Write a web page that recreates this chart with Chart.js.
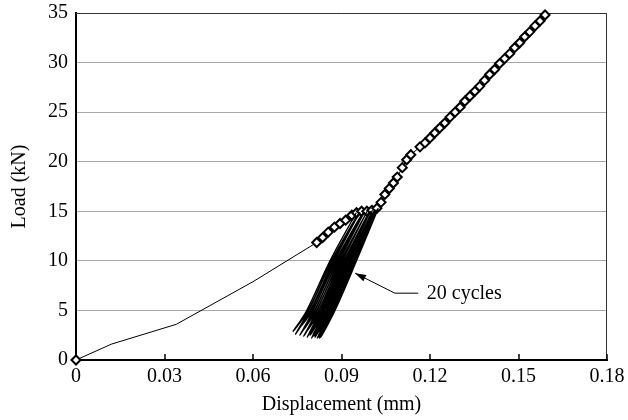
<!DOCTYPE html>
<html>
<head>
<meta charset="utf-8">
<script src="https://cdn.jsdelivr.net/npm/chart.js@4.4.0/dist/chart.umd.min.js"></script>
<style>
  html, body { margin: 0; padding: 0; background: #fff; }
  #wrap { width: 628px; height: 420px; }
</style>
</head>
<body>
<div id="wrap"><canvas id="chart"></canvas></div>
<script>
// monotonic envelope, displacement (mm) / load (kN)
const envX = [0, 0.012, 0.034, 0.060, 0.0816, 0.0836, 0.0855, 0.0876, 0.0895, 0.0914, 0.0935, 0.0951,
  0.0968, 0.0986, 0.1003, 0.1020, 0.1034, 0.1047, 0.1062, 0.1076, 0.1089, 0.1106, 0.1121, 0.1135,
  0.1166, 0.1183, 0.1200, 0.1216, 0.1233, 0.1250, 0.1268, 0.1285, 0.1302, 0.1318, 0.1335, 0.1352,
  0.1368, 0.1385, 0.1402, 0.1419, 0.1436, 0.1453, 0.1470, 0.1487, 0.1504, 0.1521, 0.1538, 0.1556,
  0.1573, 0.1590];
const envY = [0, 1.6, 3.6, 7.9, 11.85, 12.35, 12.9, 13.4, 13.77, 14.1, 14.6, 14.85,
  15.0, 15.0, 15.1, 15.3, 15.9, 16.7, 17.3, 17.85, 18.45, 19.4, 20.2, 20.7,
  21.5, 21.9, 22.4, 22.9, 23.4, 23.9, 24.5, 25.0, 25.5, 26.1, 26.6, 27.1,
  27.6, 28.2, 28.8, 29.3, 29.9, 30.4, 30.9, 31.5, 32.0, 32.6, 33.1, 33.7,
  34.2, 34.8];
const firstMarker = 4; // thin line before this, except the origin

// 20 unload/reload cycles: top, at 10 kN, at 5 kN, bottom (last top = end of cycle 20)
const cycTopX = [0.0950, 0.0956, 0.0962, 0.0967, 0.0972, 0.0977, 0.0982, 0.0987, 0.0991, 0.0995,
  0.0998, 0.1002, 0.1005, 0.1008, 0.1010, 0.1013, 0.1015, 0.1017, 0.1019, 0.1022, 0.1025];
const cycTopY = [14.85, 14.7, 14.9, 14.6, 14.8, 14.9, 14.7, 15.0, 14.8, 14.9,
  15.0, 14.8, 15.1, 14.9, 15.0, 15.1, 14.9, 15.1, 15.0, 15.2, 15.3];
const cycU10 = [0.0861, 0.0868, 0.0875, 0.0881, 0.0887, 0.0893, 0.0899, 0.0904, 0.0909, 0.0914,
  0.0918, 0.0922, 0.0926, 0.0929, 0.0932, 0.0935, 0.0938, 0.0940, 0.0943, 0.0946];
const cycU5 = [0.0782, 0.0789, 0.0797, 0.0804, 0.0810, 0.0817, 0.0823, 0.0828, 0.0834, 0.0838,
  0.0843, 0.0848, 0.0851, 0.0855, 0.0858, 0.0861, 0.0864, 0.0867, 0.0869, 0.0873];
const cycBotX = [0.0736, 0.0744, 0.0751, 0.0759, 0.0765, 0.0772, 0.0778, 0.0784, 0.0790, 0.0794,
  0.0799, 0.0804, 0.0807, 0.0811, 0.0815, 0.0818, 0.0821, 0.0823, 0.0826, 0.0830];
const cycBotY = [2.9, 2.6, 3.0, 2.5, 2.8, 2.4, 2.7, 2.3, 2.6, 2.5,
  2.2, 2.6, 2.4, 2.3, 2.5, 2.2, 2.4, 2.3, 2.2, 2.3];
const cycR5 = [0.0787, 0.0794, 0.0802, 0.0809, 0.0815, 0.0822, 0.0828, 0.0833, 0.0839, 0.0843,
  0.0848, 0.0853, 0.0856, 0.0860, 0.0863, 0.0866, 0.0869, 0.0872, 0.0874, 0.0878];
const cycR10 = [0.0866, 0.0873, 0.0880, 0.0886, 0.0892, 0.0898, 0.0904, 0.0909, 0.0914, 0.0919,
  0.0923, 0.0927, 0.0931, 0.0934, 0.0937, 0.0940, 0.0943, 0.0945, 0.0948, 0.0951];
const midLoads = [10, 5];

const xTicks = [0, 0.03, 0.06, 0.09, 0.12, 0.15, 0.18];
const yTicks = [0, 5, 10, 15, 20, 25, 30, 35];

const note = { text: '20 cycles', tip: [0.0946, 8.76], elbow: [0.1081, 6.74], end: [0.1160, 6.74], textX: 0.1189 };

const FONT = 'Liberation Serif, Times New Roman, serif';

const envelope = envX.map((x, i) => ({ x, y: envY[i] }));
const cycles = [];
for (let i = 0; i < cycU10.length; i++) {
  cycles.push({ x: cycTopX[i], y: cycTopY[i] });
  cycles.push({ x: cycU10[i], y: midLoads[0] });
  cycles.push({ x: cycU5[i], y: midLoads[1] });
  cycles.push({ x: cycBotX[i], y: cycBotY[i] });
  cycles.push({ x: cycR5[i], y: midLoads[1] });
  cycles.push({ x: cycR10[i], y: midLoads[0] });
}
cycles.push({ x: cycTopX[cycTopX.length - 1], y: cycTopY[cycTopY.length - 1] });

const frame = {
  id: 'frame',
  beforeDatasetsDraw(c) {
    const { ctx, chartArea: a } = c;
    const xs = c.scales.x;
    ctx.save();
    ctx.strokeStyle = '#333';
    ctx.lineWidth = 1;
    ctx.beginPath();
    ctx.moveTo(a.left, a.top + 0.5);
    ctx.lineTo(a.right - 0.5, a.top + 0.5);
    ctx.lineTo(a.right - 0.5, a.bottom);
    ctx.stroke();
    // inward tick marks on the x axis
    ctx.strokeStyle = '#000';
    ctx.lineWidth = 1.5;
    xTicks.forEach((v) => {
      const px = Math.round(xs.getPixelForValue(v));
      ctx.beginPath();
      ctx.moveTo(px, a.bottom);
      ctx.lineTo(px, a.bottom - 6);
      ctx.stroke();
    });
    ctx.restore();
  },
  afterDatasetsDraw(c) {
    const { ctx } = c;
    const xs = c.scales.x, ys = c.scales.y;
    const p = (d) => [xs.getPixelForValue(d[0]), ys.getPixelForValue(d[1])];
    const [tx, ty] = p(note.tip);
    const [ex, ey] = p(note.elbow);
    const [nx, ny] = p(note.end);
    ctx.save();
    ctx.strokeStyle = '#000';
    ctx.fillStyle = '#000';
    ctx.lineWidth = 1;
    ctx.beginPath();
    ctx.moveTo(nx, ny);
    ctx.lineTo(ex, ey);
    ctx.lineTo(tx, ty);
    ctx.stroke();
    const ang = Math.atan2(ty - ey, tx - ex);
    const len = 11, half = 3.5;
    ctx.beginPath();
    ctx.moveTo(tx, ty);
    ctx.lineTo(tx - len * Math.cos(ang) + half * Math.sin(ang), ty - len * Math.sin(ang) - half * Math.cos(ang));
    ctx.lineTo(tx - len * Math.cos(ang) - half * Math.sin(ang), ty - len * Math.sin(ang) + half * Math.cos(ang));
    ctx.closePath();
    ctx.fill();
    ctx.font = '20px ' + FONT;
    ctx.textBaseline = 'middle';
    ctx.textAlign = 'left';
    ctx.fillText(note.text, xs.getPixelForValue(note.textX), ny + 1);
    ctx.restore();
  },
};

new Chart(document.getElementById('chart'), {
  type: 'scatter',
  data: {
    datasets: [
      {
        data: cycles,
        showLine: true,
        borderColor: '#000',
        borderWidth: 1.3,
        pointRadius: 0,
        tension: 0.35,
      },
      {
        data: envelope,
        showLine: true,
        clip: false,
        borderColor: '#000',
        borderWidth: 1,
        pointStyle: 'rectRot',
        pointRadius: (ctx) => (ctx.dataIndex === 0 || ctx.dataIndex >= firstMarker ? 4.5 : 0),
        pointBackgroundColor: '#fff',
        pointBorderColor: '#000',
        pointBorderWidth: 2,
        tension: 0,
      },
    ],
  },
  options: {
    responsive: true,
    maintainAspectRatio: false,
    animation: false,
    layout: { padding: { top: 13, right: 21, left: 0, bottom: 0 } },
    plugins: { legend: { display: false }, tooltip: { enabled: false } },
    scales: {
      x: {
        type: 'linear',
        min: 0,
        max: 0.18,
        afterBuildTicks: (s) => { s.ticks = xTicks.map((v) => ({ value: v })); },
        afterFit: (s) => { s.height = 60; s.paddingLeft = 0; s.paddingRight = 0; },
        grid: { display: false, drawTicks: false },
        border: { display: true, color: '#000', width: 2 },
        ticks: {
          color: '#000',
          font: { family: FONT, size: 20 },
          padding: 5,
          maxRotation: 0,
          callback: (v) => (v === 0 ? '0' : v.toFixed(2)),
        },
        title: {
          display: true,
          text: 'Displacement (mm)',
          color: '#000',
          font: { family: FONT, size: 20 },
          padding: { top: 0, bottom: 3 },
        },
      },
      y: {
        min: 0,
        max: 35,
        afterBuildTicks: (s) => { s.ticks = yTicks.map((v) => ({ value: v })); },
        afterFit: (s) => { s.width = 76; s.paddingTop = 0; s.paddingBottom = 0; },
        grid: { color: '#a8a8a8', lineWidth: 1, drawTicks: false },
        border: { display: true, color: '#000', width: 2 },
        ticks: {
          color: '#000',
          font: { family: FONT, size: 20 },
          padding: 8,
        },
        title: {
          display: true,
          text: 'Load (kN)',
          color: '#000',
          font: { family: FONT, size: 20 },
          padding: { top: 8, bottom: 0 },
        },
      },
    },
  },
  plugins: [frame],
});
</script>
</body>
</html>
